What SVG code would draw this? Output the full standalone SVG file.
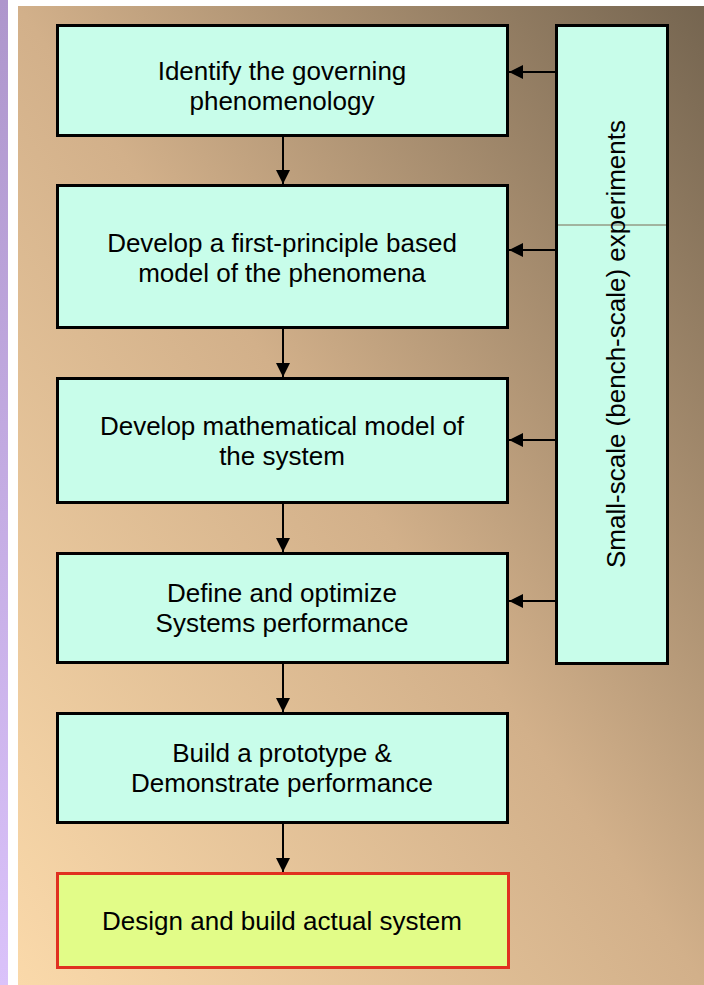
<svg xmlns="http://www.w3.org/2000/svg" width="704" height="985" viewBox="0 0 704 985">
<defs>
<linearGradient id="bg" x1="0" y1="1" x2="1" y2="0">
<stop offset="0" stop-color="#fad9aa"/>
<stop offset="0.5" stop-color="#d2b08a"/>
<stop offset="1" stop-color="#756550"/>
</linearGradient>
<linearGradient id="strip" x1="0" y1="0" x2="0" y2="1">
<stop offset="0" stop-color="#ae96cc"/>
<stop offset="1" stop-color="#dac2fa"/>
</linearGradient>
<marker id="ah" viewBox="0 0 14 14" refX="14" refY="7" markerWidth="14" markerHeight="14" markerUnits="userSpaceOnUse" orient="auto">
<path d="M0,0 L14,7 L0,14 Z" fill="#000"/>
</marker>
<style>
.box{fill:#c8fdea;stroke:#000;stroke-width:3}
.final{fill:#e2fc88;stroke:#e03020;stroke-width:3}
.t{font-family:"Liberation Sans",Arial,sans-serif;font-size:26px;fill:#000;text-anchor:middle}
.c{stroke:#000;stroke-width:2;fill:none;marker-end:url(#ah)}
</style>
</defs>
<rect x="0" y="0" width="704" height="985" fill="#fff"/>
<rect x="0" y="0" width="8" height="985" fill="url(#strip)"/>
<rect x="18" y="6" width="686" height="979" fill="url(#bg)"/>
<g id="n1"><rect class="box" x="57.5" y="25.5" width="450" height="110"/>
<text class="t" x="282" y="80">Identify the governing</text>
<text class="t" x="282" y="110">phenomenology</text></g>
<g id="n2"><rect class="box" x="57.5" y="185.5" width="450" height="142"/>
<text class="t" x="282" y="252">Develop a first-principle based</text>
<text class="t" x="282" y="282">model of the phenomena</text></g>
<g id="n3"><rect class="box" x="57.5" y="378.5" width="450" height="124"/>
<text class="t" x="282" y="435">Develop mathematical model of</text>
<text class="t" x="282" y="465">the system</text></g>
<g id="n4"><rect class="box" x="57.5" y="553.5" width="450" height="109"/>
<text class="t" x="282" y="602">Define and optimize</text>
<text class="t" x="282" y="632">Systems performance</text></g>
<g id="n5"><rect class="box" x="57.5" y="713.5" width="450" height="109"/>
<text class="t" x="282" y="762">Build a prototype &amp;</text>
<text class="t" x="282" y="792">Demonstrate performance</text></g>
<g id="n6"><rect class="final" x="57.5" y="873.5" width="451" height="94"/>
<text class="t" x="282" y="930">Design and build actual system</text></g>
<g id="n7"><rect class="box" x="556.5" y="25.5" width="111" height="638"/>
<line x1="558" y1="225" x2="666" y2="225" stroke="#7a6a55" stroke-width="1"/>
<text class="t" transform="translate(625,344) rotate(-90)">Small-scale (bench-scale) experiments</text></g>
<g id="connectors">
<line class="c" x1="283" y1="137" x2="283" y2="184"/>
<line class="c" x1="283" y1="329" x2="283" y2="377"/>
<line class="c" x1="283" y1="504" x2="283" y2="552"/>
<line class="c" x1="283" y1="664" x2="283" y2="712"/>
<line class="c" x1="283" y1="824" x2="283" y2="872"/>
<line class="c" x1="555" y1="72" x2="509" y2="72"/>
<line class="c" x1="555" y1="250" x2="509" y2="250"/>
<line class="c" x1="555" y1="440" x2="509" y2="440"/>
<line class="c" x1="555" y1="601" x2="509" y2="601"/>
</g>
</svg>
